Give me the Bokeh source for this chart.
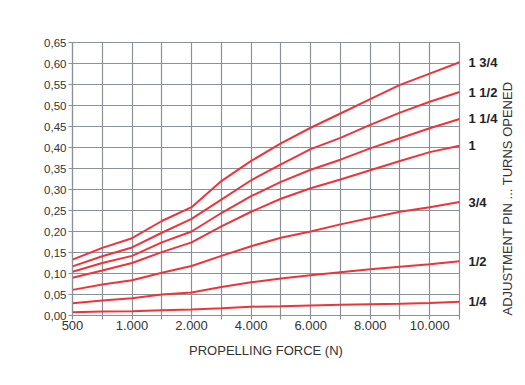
import math
from bokeh.plotting import figure
from bokeh.models import FixedTicker, CustomJSTickFormatter, LinearAxis, Range1d
from bokeh.embed import file_html
from bokeh.resources import INLINE

# Propelling force categories (N), equally spaced on the chart
forces = [500, 750, 1000, 1500, 2000, 3000, 4000, 5000, 6000, 7000, 8000, 9000, 10000, 11000]
labelled_forces = [500, 1000, 2000, 4000, 6000, 8000, 10000]

# Adjustment pin turns opened (series labels)
turns = ["1 3/4", "1 1/2", "1 1/4", "1", "3/4", "1/2", "1/4"]

t_1_3_4 = [0.133, 0.161, 0.184, 0.225, 0.258, 0.320, 0.368, 0.410, 0.447, 0.481, 0.515, 0.549, 0.576, 0.603]
t_1_1_2 = [0.117, 0.141, 0.162, 0.197, 0.230, 0.276, 0.322, 0.360, 0.396, 0.423, 0.454, 0.483, 0.509, 0.532]
t_1_1_4 = [0.104, 0.125, 0.142, 0.174, 0.200, 0.244, 0.284, 0.318, 0.347, 0.371, 0.398, 0.422, 0.446, 0.468]
t_1 = [0.090, 0.107, 0.125, 0.151, 0.174, 0.212, 0.247, 0.278, 0.303, 0.324, 0.346, 0.368, 0.389, 0.404]
t_3_4 = [0.061, 0.074, 0.084, 0.102, 0.118, 0.142, 0.165, 0.185, 0.200, 0.217, 0.232, 0.247, 0.258, 0.270]
t_1_2 = [0.029, 0.036, 0.041, 0.050, 0.055, 0.068, 0.079, 0.088, 0.096, 0.103, 0.110, 0.116, 0.122, 0.129]
t_1_4 = [0.008, 0.0095, 0.010, 0.0127, 0.014, 0.0174, 0.021, 0.022, 0.024, 0.0255, 0.027, 0.028, 0.030, 0.033]

series = [t_1_3_4, t_1_1_2, t_1_1_4, t_1, t_3_4, t_1_2, t_1_4]

y_ticks = [round(i * 0.05, 2) for i in range(14)]

FONT = "Liberation Sans"
GRID = "#8a9199"
RED = "#ee333a"
TEXT = "#333333"

xpos = list(range(len(forces)))

p = figure(width=525, height=382, output_backend="svg", toolbar_location=None,
           x_range=Range1d(0, len(forces) - 1), y_range=Range1d(0, 0.65),
           min_border_left=72, min_border_top=42, min_border_right=64, min_border_bottom=67)
p.outline_line_color = GRID
p.outline_line_width = 1.2
p.background_fill_color = "white"
p.border_fill_color = "white"

# x axis
major_x = [i for i, f in enumerate(forces) if f in labelled_forces]
minor_x = [i for i, f in enumerate(forces) if f not in labelled_forces]
xt = FixedTicker(ticks=major_x, minor_ticks=minor_x)
p.xaxis.ticker = xt
p.xaxis.major_label_overrides = {i: f"{forces[i]:,}".replace(",", ".") for i in major_x}
p.xgrid.ticker = xt
p.xgrid.grid_line_color = GRID
p.xgrid.grid_line_width = 1.2
p.xgrid.minor_grid_line_color = GRID
p.xgrid.minor_grid_line_width = 1.2
p.xaxis.axis_label = "PROPELLING FORCE (N)"

# y axis
yt = FixedTicker(ticks=y_ticks)
p.yaxis.ticker = yt
p.yaxis.formatter = CustomJSTickFormatter(code="return tick.toFixed(2).replace('.', ',');")
p.ygrid.ticker = yt
p.ygrid.grid_line_color = GRID
p.ygrid.grid_line_width = 1.2

for ax in (p.xaxis[0], p.yaxis[0]):
    ax.axis_line_color = GRID
    ax.axis_line_width = 1.2
    ax.major_tick_line_color = GRID
    ax.major_tick_line_width = 1.2
    ax.major_tick_in = 0
    ax.major_tick_out = 4
    ax.minor_tick_line_color = GRID
    ax.minor_tick_line_width = 1.2
    ax.minor_tick_in = 0
    ax.minor_tick_out = 4
    ax.major_label_text_font = FONT
    ax.major_label_text_color = TEXT
    ax.axis_label_text_font = FONT
    ax.axis_label_text_font_style = "normal"
    ax.axis_label_text_color = TEXT
    ax.axis_label_text_font_size = "13px"

p.xaxis.major_label_text_font_size = "13px"
p.xaxis.major_label_standoff = 1
p.xaxis.axis_label_standoff = 10
p.yaxis.major_label_text_font_size = "11.5px"
p.yaxis.major_label_standoff = 2
p.yaxis.minor_tick_line_color = None

for s in series:
    p.line(xpos, s, line_color=RED, line_width=2)

# right axis with series labels at line ends
ends = [s[-1] for s in series]
raxis = LinearAxis(
    ticker=FixedTicker(ticks=ends),
    formatter=CustomJSTickFormatter(
        args=dict(end_vals=ends, turn_labels=turns),
        code="""
        let b = 0;
        for (let i = 0; i < end_vals.length; i++) {
            if (Math.abs(end_vals[i] - tick) < Math.abs(end_vals[b] - tick)) b = i;
        }
        return turn_labels[b];
        """),
    axis_line_color=None, major_tick_line_color=None, minor_tick_line_color=None,
    major_label_standoff=3, major_label_text_font=FONT, major_label_text_font_style="bold",
    major_label_text_font_size="13px", major_label_text_color="#222222",
    axis_label="ADJUSTMENT PIN ... TURNS OPENED", axis_label_standoff=7,
    axis_label_text_font=FONT, axis_label_text_font_style="normal",
    axis_label_text_font_size="13px", axis_label_text_color=TEXT)
try:
    raxis.axis_label_orientation = math.pi / 2
except Exception:
    pass
try:
    raxis.axis_label_align = "start"
except Exception:
    pass
p.add_layout(raxis, "right")

open("out.html", "w").write(file_html(p, INLINE))
